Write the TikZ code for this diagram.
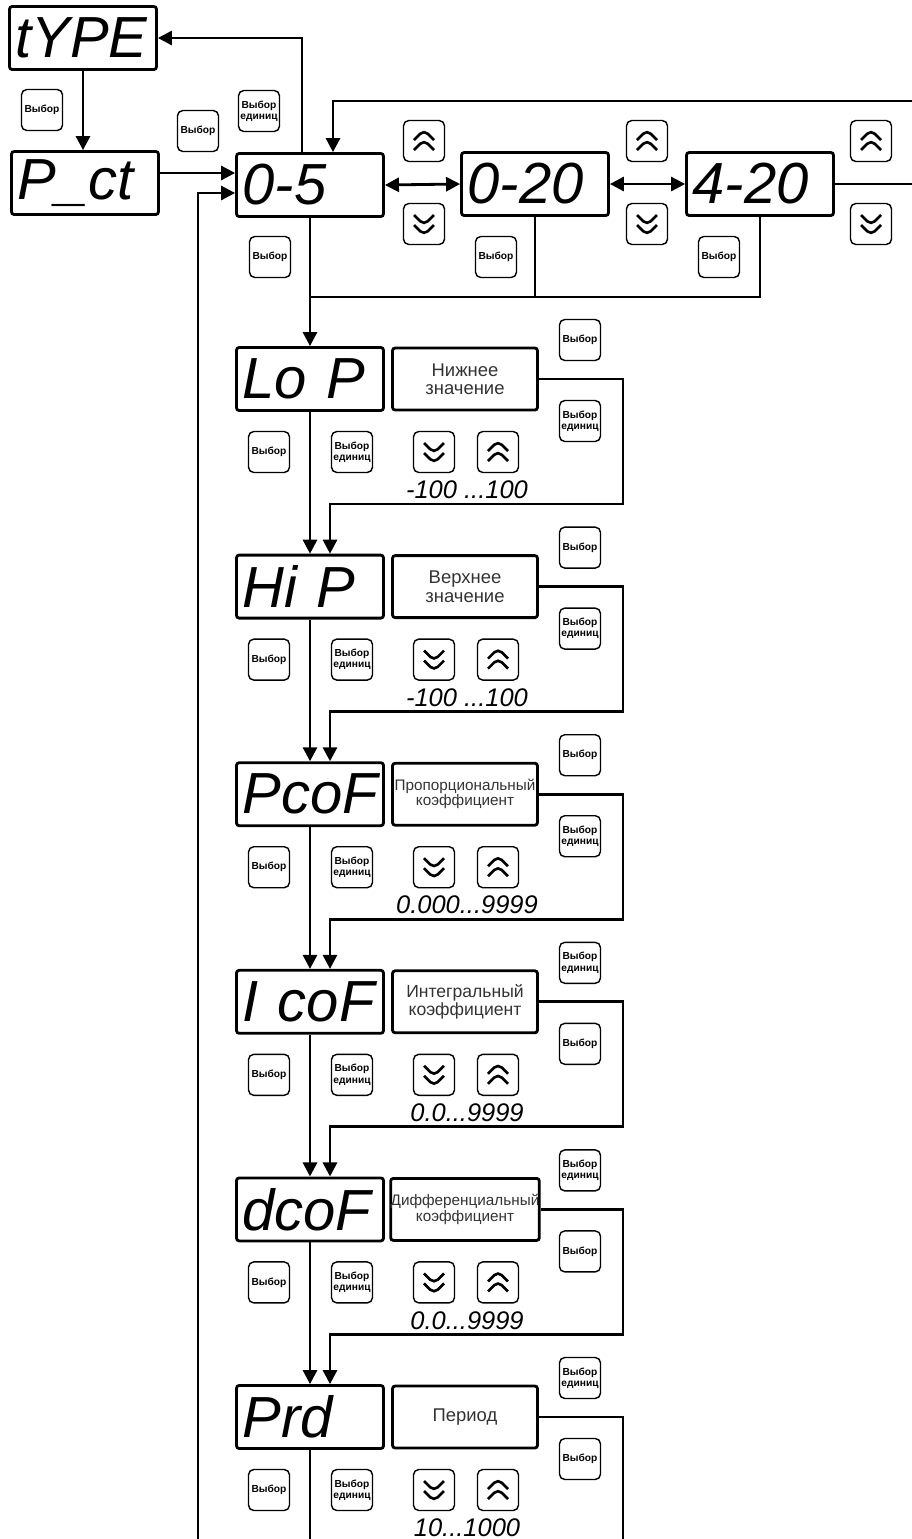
\documentclass[tikz,border=0pt]{standalone}
\usepackage{fontspec}
\setmainfont{Liberation Sans}
\usetikzlibrary{arrows.meta}
\newcommand{\rngdots}{...}

\begin{document}
\begin{tikzpicture}[x=0.02cm,y=-0.02cm,
  disp/.style={draw,line width=1.6pt,rounded corners=1.5pt,minimum height=1.26cm,inner xsep=0.12cm,inner ysep=0pt,text width=2.7cm,align=left,font=\fontsize{33}{33}\selectfont\itshape},
  parm/.style={draw,line width=1.6pt,rounded corners=1.5pt,minimum width=2.9cm,minimum height=1.24cm,inner sep=0pt,align=center,text=black!80},
  btn/.style={draw,line width=0.8pt,rounded corners=3pt,minimum size=0.82cm,inner sep=0pt,align=center,font=\fontsize{5.8}{6.4}\selectfont\bfseries},
  upbtn/.style={btn,path picture={\draw[line width=1.5pt]
    ([shift={(-10,-1)}]path picture bounding box.center) -- ++(10,-10) -- ++(10,10)
    ([shift={(-10,9)}]path picture bounding box.center) -- ++(10,-10) -- ++(10,10);}},
  dnbtn/.style={btn,path picture={\draw[line width=1.5pt]
    ([shift={(-10,1)}]path picture bounding box.center) -- ++(10,10) -- ++(10,-10)
    ([shift={(-10,-9)}]path picture bounding box.center) -- ++(10,10) -- ++(10,-10);}},
  rng/.style={font=\fontsize{14.5}{15}\selectfont\itshape},
  wire/.style={line width=1.6pt},
  arr/.style={wire,-{Triangle[length=8pt,width=8pt]}},
  arrs/.style={wire,{Triangle[length=8pt,width=8pt]}-{Triangle[length=8pt,width=8pt]}}]
\useasboundingbox (0,0) rectangle (912,1539);
\node[disp] (type) at (83,38) {tYPE};
\node[disp] (pct) at (85,183) {P\_ct};
\node[disp] (d05) at (310,185) {0-5};
\node[disp] (d020) at (535,184) {0-20};
\node[disp] (d420) at (760,184) {4-20};
\node[btn] (b1) at (42,110) {Выбор};
\node[btn] (b2) at (198,131) {Выбор};
\node[btn] (b3) at (259,111) {Выбор\\единиц};
\node[btn] (b4) at (270,257) {Выбор};
\node[btn] (b5) at (496,257) {Выбор};
\node[btn] (b6) at (719,257) {Выбор};
\node[upbtn] (u1) at (424,141) {};
\node[dnbtn] (n1) at (424,224) {};
\node[upbtn] (u2) at (647,141) {};
\node[dnbtn] (n2) at (647,224) {};
\node[upbtn] (u3) at (871,141) {};
\node[dnbtn] (n3) at (871,224) {};
\foreach \i/\d/\p/\fs/\r/\ta/\tb in {
  0/{Lo P}/{Нижнее\\значение}/10.5/{-100 \rngdots100}/{Выбор}/{Выбор\\единиц},
  1/{Hi P}/{Верхнее\\значение}/10.5/{-100 \rngdots100}/{Выбор}/{Выбор\\единиц},
  2/{PcoF}/{Пропорциональный\\коэффициент}/8.7/{0.000\rngdots9999}/{Выбор}/{Выбор\\единиц},
  3/{\mbox{I coF}}/{Интегральный\\коэффициент}/10/{0.0\rngdots9999}/{Выбор\\единиц}/{Выбор},
  4/{dcoF}/{Дифференциальный\\коэффициент}/8.7/{0.0\rngdots9999}/{Выбор\\единиц}/{Выбор},
  5/{Prd}/{Период}/10.5/{10\rngdots1000}/{Выбор\\единиц}/{Выбор}}
{
  \pgfmathsetmacro\y{379+207.6*\i}
  \node[disp] (r\i) at (310,\y) {\d};
  \node[parm,font=\fontsize{\fs}{\fs}\selectfont] (p\i) at (465,\y) {\p};
  \node[btn] (ta\i) at (580,\y-39) {\ta};
  \node[btn] (tb\i) at (580,\y+42) {\tb};
  \node[btn] (s\i) at (269,\y+73) {Выбор};
  \node[btn] (e\i) at (352,\y+73) {Выбор\\единиц};
  \node[dnbtn] (dn\i) at (434,\y+73) {};
  \node[upbtn] (up\i) at (498,\y+73) {};
  \node[rng] (rg\i) at (467,\y+111) {\r};
  \coordinate (c\i) at (623,\y+125);
}
\coordinate (topR) at (912,101);
\coordinate (midR) at (912,184);
\coordinate (jn) at (310,297);
\coordinate (loopB) at (198,1539);
\coordinate (endL) at (310,1539);
\coordinate (endR) at (623,1539);
\draw[arr] (type.south) -- (type.south |- pct.north);
\draw[arr] ([yshift=0.2cm]pct.east) -- ([yshift=0.2cm]pct.east -| d05.west);
\draw[arr] (loopB) |- ([yshift=-0.16cm]d05.west);
\draw[arr] ([xshift=-0.16cm]d05.north) |- (type.east);
\draw[arr] (topR) -| ([xshift=0.46cm]d05.north);
\draw[wire] (d420.east) -- (midR);
\draw[arrs] (d05.east) -- (d020.west);
\draw[arrs] (d020.east) -- (d420.west);
\draw[wire] (d420.south) |- (jn);
\draw[wire] (d020.south) -- (d020.south |- jn);
\draw[arr] (d05.south) -- (r0.north);
\foreach \i/\j in {0/1,1/2,2/3,3/4,4/5} {
  \draw[arr] (r\i.south) -- (r\j.north);
  \draw[arr] (p\i.east) -| (c\i) -| ([xshift=0.4cm]r\j.north);
}
\draw[wire] (r5.south) -- (endL);
\draw[wire] (p5.east) -| (endR);
\end{tikzpicture}
\end{document}
